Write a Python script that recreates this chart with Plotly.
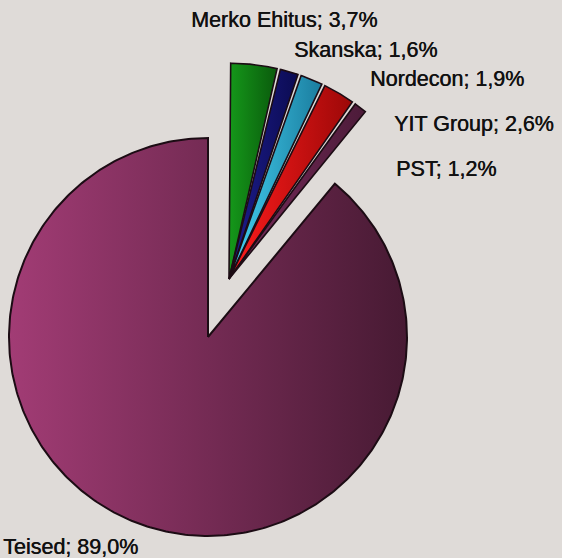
import numpy as np
import plotly.graph_objects as go

# ---- data ----
labels = ["Merko Ehitus", "Skanska", "Nordecon", "YIT Group", "PST", "Teised"]
shares = [3.7, 1.6, 1.9, 2.6, 1.2, 89.0]
exploded = [True, True, True, True, True, False]
colors_left = ["#15981a", "#1d1d8e", "#44d2f2", "#ff1c1c", "#7a2c5c", "#a23c75"]
colors_right = ["#0a5a0c", "#0b0b52", "#1a7c9e", "#9c0808", "#4c1b39", "#471a33"]

label_text = [f"{n}; {v:.1f}%".replace(".", ",") for n, v in zip(labels, shares)]

# ---- layout geometry (pixels of a 562x558 canvas) ----
W, H = 562, 558
CX_PX, CY_PX, R_PX = 208, 337, 199
x_range = [(0 - CX_PX) / R_PX, (W - CX_PX) / R_PX]
y_range = [(CY_PX - H) / R_PX, CY_PX / R_PX]

explode_dx, explode_dy = 0.1055, 0.291  # group offset of the exploded slices
explode_r = 1.085
half_gap = np.radians(0.45)

def wedge(a0, a1, r, cx, cy, shrink, n=120):
    t = np.linspace(a0 + shrink, a1 - shrink, n)
    xs = np.concatenate([[cx], cx + r * np.sin(t), [cx]])
    ys = np.concatenate([[cy], cy + r * np.cos(t), [cy]])
    return xs, ys

fig = go.Figure()
total = sum(shares)
start = 0.0
for i, (name, v) in enumerate(zip(labels, shares)):
    a0 = 2 * np.pi * start / total
    a1 = 2 * np.pi * (start + v) / total
    start += v
    if exploded[i]:
        xs, ys = wedge(a0, a1, explode_r, explode_dx, explode_dy, half_gap, 60)
        lw = 1.6
    else:
        xs, ys = wedge(a0, a1, 1.0, 0.0, 0.0, 0.0, 400)
        lw = 2.0
    fig.add_trace(go.Scatter(
        x=xs, y=ys, mode="lines", fill="toself",
        fillgradient=dict(type="horizontal",
                          colorscale=[[0, colors_left[i]], [1, colors_right[i]]]),
        line=dict(color="#1c0c14", width=lw),
        name=name, hoverinfo="name", showlegend=False,
    ))

# ---- labels ----
label_pos_px = {
    "Merko Ehitus": (284, 20, "center"),
    "Skanska": (365, 50, "center"),
    "Nordecon": (447, 79, "center"),
    "YIT Group": (474, 124, "center"),
    "PST": (446, 169, "center"),
    "Teised": (1, 547, "left"),
}
for name, txt in zip(labels, label_text):
    px, py, anchor = label_pos_px[name]
    fig.add_annotation(
        x=px / W, y=1 - py / H, xref="paper", yref="paper",
        text=txt, showarrow=False, xanchor=anchor, yanchor="middle",
        font=dict(family="Liberation Sans, Arial, sans-serif", size=21.5,
                  color="#111111", shadow="0.45px 0 0 #111111"),
    )

fig.update_layout(
    width=W, height=H,
    margin=dict(l=0, r=0, t=0, b=0),
    paper_bgcolor="#dfdbd8", plot_bgcolor="#dfdbd8",
    xaxis=dict(range=x_range, visible=False, fixedrange=True),
    yaxis=dict(range=y_range, visible=False, fixedrange=True),
    showlegend=False,
)

fig.write_html(
    "out.html",
    config={"displayModeBar": False},
    post_script="document.body.style.margin='0';document.body.style.overflow='hidden';",
)
